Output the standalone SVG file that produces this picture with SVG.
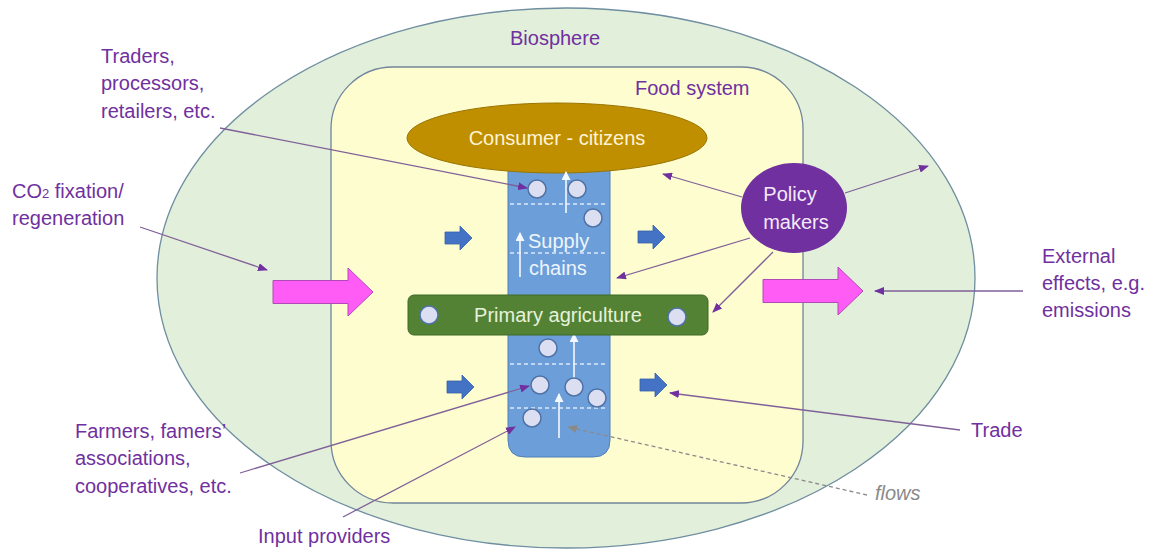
<svg xmlns="http://www.w3.org/2000/svg" width="1154" height="553" viewBox="0 0 1154 553">
<style>
.lbl{font-family:"Liberation Sans",Arial,sans-serif;font-size:20px;fill:#7030a0}
.in{font-family:"Liberation Sans",Arial,sans-serif;font-size:20px}
.con{fill:none;stroke:#7f6098;stroke-width:1.3}
.dot{fill:#dcdff2;stroke:#4f72a6;stroke-width:1.5}
.wa{stroke:#f4f8ff;stroke-width:1.6;fill:none}
.dash{stroke:#dce8f8;stroke-width:1.3;stroke-dasharray:4 3}
.blue{fill:#4472c4;stroke:#3560ab;stroke-width:0.8}
.pink{fill:#ff5cf5;stroke:#b04ab8;stroke-width:1}
</style>
<defs>
<marker id="mp" markerWidth="10" markerHeight="8" refX="9" refY="4" orient="auto" markerUnits="userSpaceOnUse"><path d="M0,0 L10,4 L0,8 Z" fill="#7030a0"/></marker>
<marker id="mg" markerWidth="10" markerHeight="8" refX="9" refY="4" orient="auto" markerUnits="userSpaceOnUse"><path d="M0,0 L10,4 L0,8 Z" fill="#8a8a8a"/></marker>
<marker id="mw" markerWidth="9" markerHeight="9" refX="8" refY="4.5" orient="auto" markerUnits="userSpaceOnUse"><path d="M0,0 L9,4.5 L0,9 Z" fill="#f4f8ff"/></marker>
<path id="barrow" d="M0,-6 H15 V-12 L27,0 L15,12 V6 H0 Z"/>
<path id="parrow" d="M0,-11.5 H75 V-24 L100,0 L75,24 V11.5 H0 Z"/>
</defs>

<g id="biosphere">
<ellipse cx="566" cy="278" rx="409" ry="270" fill="#e2efda" stroke="#6f8ea0" stroke-width="1.3"/>
<text class="lbl" x="555" y="45" text-anchor="middle">Biosphere</text>
</g>

<g id="food-system">
<rect x="331" y="67" width="472" height="436" rx="62" ry="62" fill="#fefdd0" stroke="#71859c" stroke-width="1.3"/>
<text class="lbl" x="635" y="95">Food system</text>
</g>

<g id="supply-chains">
<path d="M508,165 V440 Q508,457 525,457 H593 Q610,457 610,440 V165 Z" fill="#6c9fd9" stroke="#4f7fba" stroke-width="1"/>
<line class="dash" x1="510" y1="204" x2="608" y2="204"/>
<line class="dash" x1="510" y1="253" x2="608" y2="253"/>
<line class="dash" x1="510" y1="364" x2="608" y2="364"/>
<line class="dash" x1="510" y1="408" x2="608" y2="408"/>
<text class="in" x="528" y="248" fill="#eef4fc">Supply</text>
<text class="in" x="529" y="275" fill="#eef4fc">chains</text>
<line class="wa" x1="520" y1="277" x2="520" y2="233" marker-end="url(#mw)"/>
<line class="wa" x1="559" y1="438" x2="559" y2="394" marker-end="url(#mw)"/>
<line class="wa" x1="574" y1="378" x2="574" y2="334" marker-end="url(#mw)"/>
<circle class="dot" cx="537" cy="189" r="9"/>
<circle class="dot" cx="577" cy="189" r="9"/>
<circle class="dot" cx="593" cy="218" r="9"/>
<circle class="dot" cx="548" cy="348" r="9"/>
<circle class="dot" cx="540" cy="385" r="9"/>
<circle class="dot" cx="574" cy="387" r="9"/>
<circle class="dot" cx="597" cy="398" r="9"/>
<circle class="dot" cx="532" cy="418" r="9"/>
</g>

<g id="consumer-citizens">
<ellipse cx="557" cy="138" rx="150" ry="35" fill="#bf8f00" stroke="#9a7400" stroke-width="1"/>
<text class="in" x="557" y="145" text-anchor="middle" fill="#fff4d6" font-size="19.5">Consumer - citizens</text>
<line class="wa" x1="566" y1="213" x2="566" y2="172" marker-end="url(#mw)"/>
</g>

<g id="primary-agriculture">
<rect x="408" y="295" width="300" height="40" rx="6" fill="#548235" stroke="#3f6a27" stroke-width="1"/>
<text class="in" x="558" y="322" text-anchor="middle" fill="#e6f2dc" font-size="21">Primary agriculture</text>
<circle class="dot" cx="429" cy="315" r="9"/>
<circle class="dot" cx="677" cy="317" r="9"/>
</g>

<g id="policy-makers">
<ellipse cx="794" cy="208" rx="53" ry="45" fill="#7030a0"/>
<text class="in" x="790" y="201" text-anchor="middle" fill="#f3eaf9">Policy</text>
<text class="in" x="796" y="229" text-anchor="middle" fill="#f3eaf9">makers</text>
</g>

<g id="flow-arrows">
<use href="#barrow" class="blue" x="445" y="238"/>
<use href="#barrow" class="blue" x="638" y="237"/>
<use href="#barrow" class="blue" x="447" y="387"/>
<use href="#barrow" class="blue" x="640" y="385"/>
<use href="#parrow" class="pink" x="273" y="292"/>
<use href="#parrow" class="pink" x="763" y="291"/>
</g>

<g id="labels">
<text class="lbl" x="101" y="63">Traders,</text>
<text class="lbl" x="101" y="90">processors,</text>
<text class="lbl" x="101" y="118">retailers, etc.</text>
<text class="lbl" x="12" y="198">CO<tspan font-size="13">2</tspan> fixation/</text>
<text class="lbl" x="12" y="225">regeneration</text>
<text class="lbl" x="75" y="438">Farmers, famers’</text>
<text class="lbl" x="75" y="465">associations,</text>
<text class="lbl" x="75" y="493">cooperatives, etc.</text>
<text class="lbl" x="258" y="543">Input providers</text>
<text class="lbl" x="971" y="437">Trade</text>
<text class="lbl" x="1042" y="263" font-size="19">External</text>
<text class="lbl" x="1042" y="290" font-size="19">effects, e.g.</text>
<text class="lbl" x="1042" y="317" font-size="19">emissions</text>
<text x="875" y="500" font-family="Liberation Sans,Arial,sans-serif" font-size="20" font-style="italic" fill="#8a8a8a">flows</text>
</g>

<g id="connectors">
<line class="con" x1="220" y1="128" x2="527" y2="188" marker-end="url(#mp)"/>
<line class="con" x1="140" y1="227" x2="267" y2="270" marker-end="url(#mp)"/>
<line class="con" x1="240" y1="473" x2="529" y2="386" marker-end="url(#mp)"/>
<line class="con" x1="343" y1="517" x2="515" y2="427" marker-end="url(#mp)"/>
<line class="con" x1="960" y1="430" x2="670" y2="393" marker-end="url(#mp)"/>
<line class="con" x1="1023" y1="291" x2="875" y2="291" marker-end="url(#mp)"/>
<line class="con" x1="742" y1="197" x2="663" y2="174" marker-end="url(#mp)"/>
<line class="con" x1="750" y1="238" x2="617" y2="278" marker-end="url(#mp)"/>
<line class="con" x1="773" y1="252" x2="713" y2="312" marker-end="url(#mp)"/>
<line class="con" x1="845" y1="193" x2="928" y2="166" marker-end="url(#mp)"/>
<line x1="867" y1="495" x2="568" y2="427" stroke="#8a8a8a" stroke-width="1.3" stroke-dasharray="4 3" marker-end="url(#mg)"/>
</g>
</svg>
